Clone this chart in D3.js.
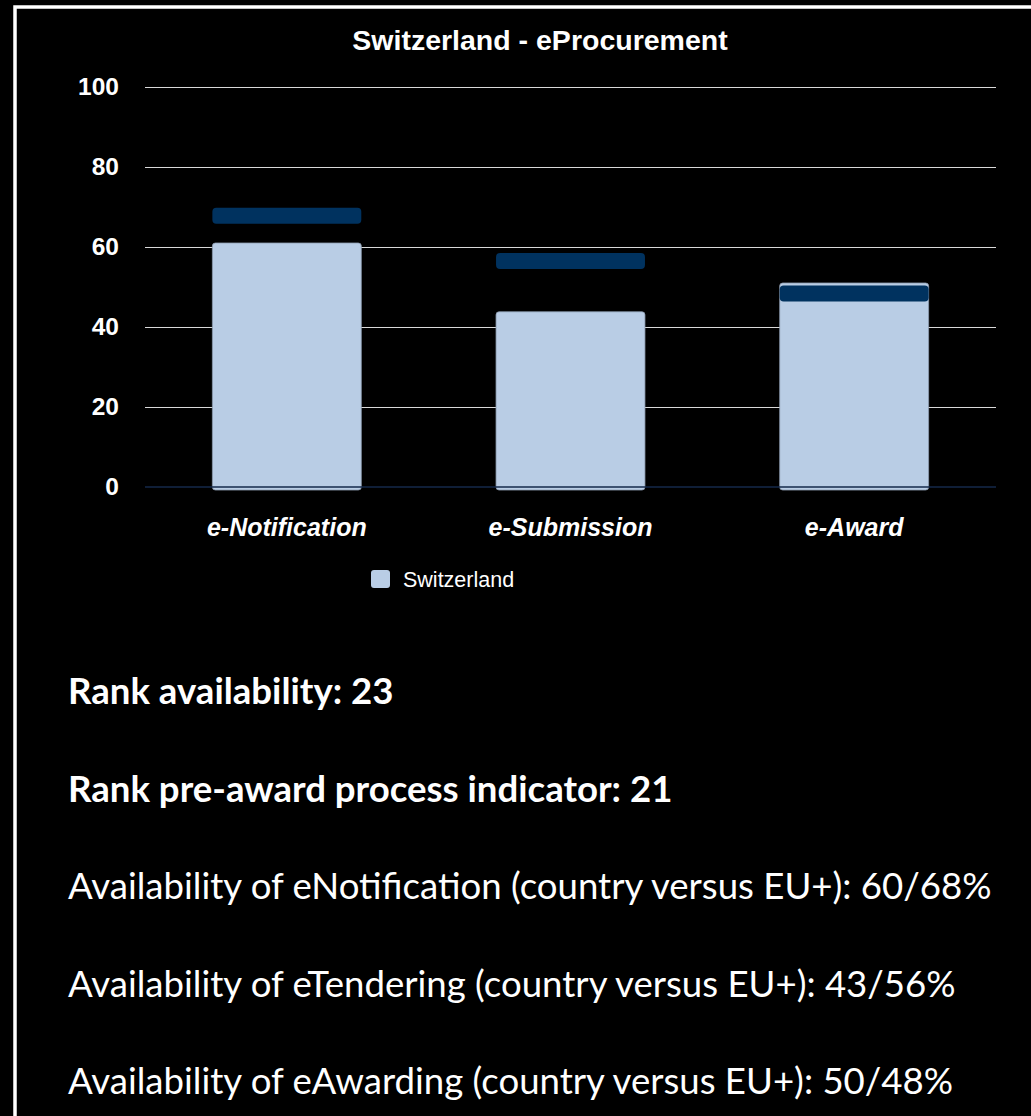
<!DOCTYPE html>
<html>
<head>
<meta charset="utf-8">
<script src="https://cdn.jsdelivr.net/npm/d3@7"></script>
<style>
  html, body { margin: 0; padding: 0; background: #000; overflow: hidden; }
  svg { display: block; }
</style>
</head>
<body>
<div id="canvas"></div>
<script>
// chart data
var categories = ["e-Notification", "e-Submission", "e-Award"];
var countryValues = [61, 43.8, 51];     // Switzerland bars
var euValues = [67.8, 56.5, 48.4];      // EU+ markers
var yTicks = [0, 20, 40, 60, 80, 100];
var legendLabels = ["Switzerland"];
var notes = [
  { text: "Rank availability: 23", bold: true },
  { text: "Rank pre-award process indicator: 21", bold: true },
  { text: "Availability of eNotification (country versus EU+): 60/68%", bold: false },
  { text: "Availability of eTendering (country versus EU+): 43/56%", bold: false },
  { text: "Availability of eAwarding (country versus EU+): 50/48%", bold: false }
];

var width = 1031, height = 1116;
var plotLeft = 145, plotRight = 996, plotTop = 87, plotBottom = 487;
var barColor = "#b9cde5", markColor = "#00325f";
var chartFont = "Liberation Sans, Arial, sans-serif";
var noteFont = "Lato, 'Open Sans', sans-serif";

var svg = d3.select("#canvas").append("svg")
    .attr("width", width)
    .attr("height", height);

// outer frame
svg.append("rect")
    .attr("x", 15).attr("y", 7)
    .attr("width", 1100).attr("height", 1200)
    .attr("fill", "none")
    .attr("stroke", "#fff")
    .attr("stroke-width", 3.5);

var x = d3.scaleBand()
    .domain(categories)
    .range([plotLeft, plotRight])
    .paddingInner(0.475)
    .paddingOuter(0.2375);

var y = d3.scaleLinear()
    .domain([0, 100])
    .range([plotBottom, plotTop]);

// title
svg.append("text")
    .attr("x", 540).attr("y", 50)
    .attr("text-anchor", "middle")
    .attr("fill", "#fff")
    .attr("font-family", chartFont)
    .attr("font-weight", "bold")
    .attr("font-size", 28.5)
    .text("Switzerland - eProcurement");

// gridlines + y labels
var yAxis = svg.append("g")
    .attr("transform", "translate(" + plotLeft + ",0)")
    .call(d3.axisLeft(y).tickValues(yTicks).tickSize(-(plotRight - plotLeft)).tickPadding(26));
yAxis.select(".domain").remove();
yAxis.selectAll(".tick line")
    .attr("stroke", function (d) { return d === 0 ? "none" : "#d9d9d9"; })
    .attr("stroke-width", 1.2);
yAxis.selectAll(".tick text")
    .attr("fill", "#fff")
    .attr("font-family", chartFont)
    .attr("font-weight", "bold")
    .attr("font-size", 24.5);

// bars
svg.selectAll("rect.bar")
    .data(countryValues)
    .enter().append("rect")
    .attr("class", "bar")
    .attr("x", function (d, i) { return x(categories[i]); })
    .attr("y", function (d) { return y(d); })
    .attr("width", x.bandwidth())
    .attr("height", function (d) { return y(0) - y(d) + 3; })
    .attr("rx", 3).attr("ry", 3)
    .attr("fill", barColor)
    .attr("stroke", "#8d9cb0")
    .attr("stroke-width", 0.8);

// zero line
svg.append("line")
    .attr("x1", plotLeft).attr("x2", plotRight)
    .attr("y1", y(0)).attr("y2", y(0))
    .attr("stroke", "#14284a")
    .attr("stroke-width", 1.5);

// EU+ markers
svg.selectAll("rect.mark")
    .data(euValues)
    .enter().append("rect")
    .attr("class", "mark")
    .attr("x", function (d, i) { return x(categories[i]); })
    .attr("y", function (d) { return y(d + 2); })
    .attr("width", x.bandwidth())
    .attr("height", y(0) - y(4))
    .attr("rx", 4).attr("ry", 4)
    .attr("fill", markColor);

// category labels
svg.selectAll("text.cat")
    .data(categories)
    .enter().append("text")
    .attr("class", "cat")
    .attr("x", function (d) { return x(d) + x.bandwidth() / 2; })
    .attr("y", 536)
    .attr("text-anchor", "middle")
    .attr("fill", "#fff")
    .attr("font-family", chartFont)
    .attr("font-weight", "bold")
    .attr("font-style", "italic")
    .attr("font-size", 25)
    .text(function (d) { return d; });

// legend
var legend = svg.selectAll("g.legend")
    .data(legendLabels)
    .enter().append("g")
    .attr("class", "legend")
    .attr("transform", "translate(371,570)");
legend.append("rect")
    .attr("width", 19).attr("height", 18)
    .attr("rx", 3).attr("ry", 3)
    .attr("fill", barColor);
legend.append("text")
    .attr("x", 32).attr("y", 17)
    .attr("fill", "#fff")
    .attr("font-family", chartFont)
    .attr("font-size", 21.5)
    .text(function (d) { return d; });

// notes below the chart
svg.selectAll("text.note")
    .data(notes)
    .enter().append("text")
    .attr("class", "note")
    .attr("x", 68)
    .attr("y", function (d, i) { return 704 + i * 97.5; })
    .attr("fill", "#fff")
    .attr("font-family", noteFont)
    .attr("font-weight", function (d) { return d.bold ? "bold" : "normal"; })
    .attr("font-size", 36.6)
    .text(function (d) { return d.text; });
</script>
</body>
</html>
